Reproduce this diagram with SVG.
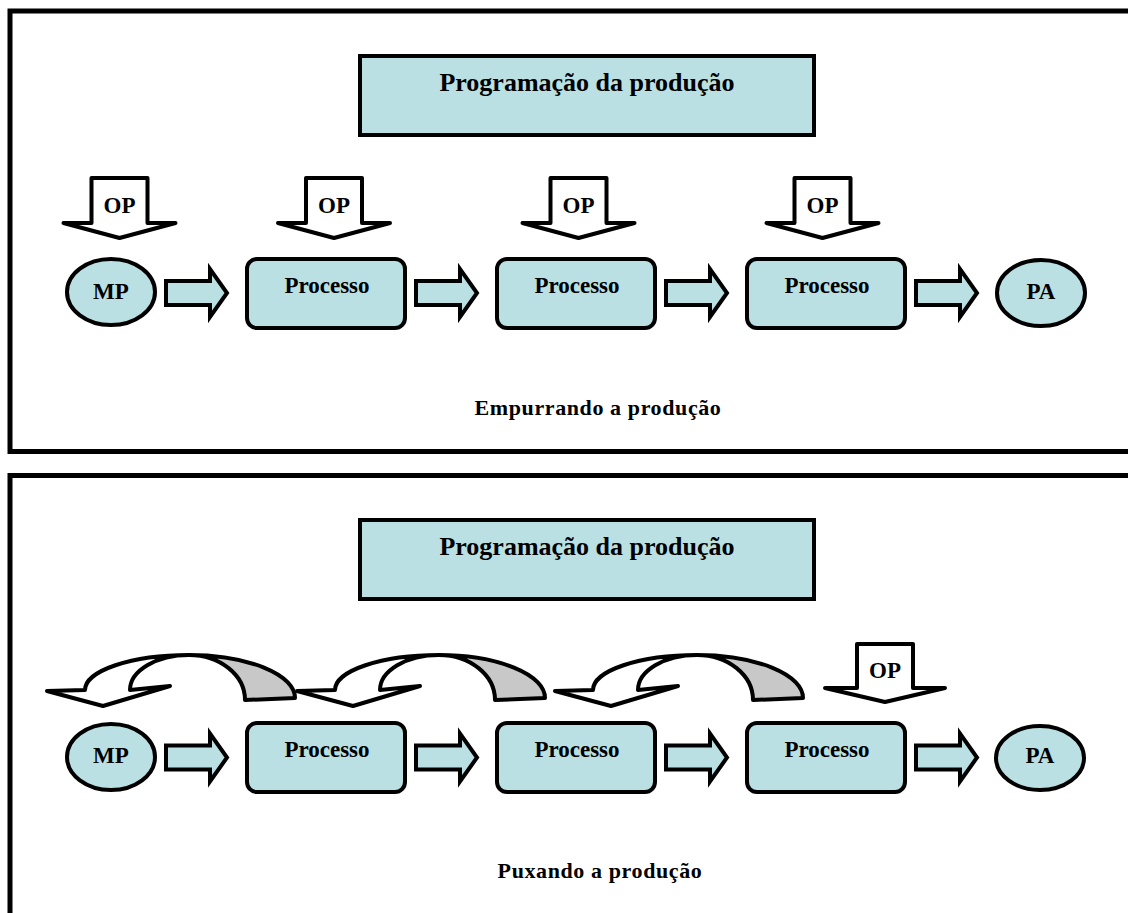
<svg xmlns="http://www.w3.org/2000/svg" xmlns:xlink="http://www.w3.org/1999/xlink" width="1128" height="913" viewBox="0 0 1128 913">
  <style>
    .frame { fill: #ffffff; stroke: #000000; stroke-width: 5; }
    .box { fill: #bbe0e3; stroke: #000000; stroke-width: 4; }
    .flow { fill: #bbe0e3; stroke: #000000; stroke-width: 4; stroke-linejoin: miter; }
    .order { fill: #ffffff; stroke: #000000; stroke-width: 4; stroke-linejoin: round; }
    .pull-front { fill: #ffffff; stroke: #000000; stroke-width: 4; stroke-linejoin: round; }
    .pull-back { fill: #c8c8c8; stroke: #000000; stroke-width: 4; stroke-linejoin: round; }
    text { font-family: "Liberation Serif", "Times New Roman", serif; font-weight: bold; fill: #000000; text-anchor: middle; }
    .title { font-size: 26px; }
    .label { font-size: 23px; }
    .caption { font-size: 22px; letter-spacing: 0.6px; }
  </style>
  <defs>
    <!-- block arrow between stages, origin at shaft left / centre line -->
    <path id="flowArrow" class="flow" d="M0,-12 H44 V-24 L61,0 L44,24 V12 H0 Z"/>
    <!-- production order arrow pointing down, origin at top centre -->
    <path id="orderArrow" class="order" d="M-28,0 H28 V45 H56 L0,60 L-56,45 H-28 Z"/>
    <path id="orderArrowWide" class="order" d="M-28,0 H28 V44 H60 L0,58 L-60,44 H-28 Z"/>
    <!-- curved pull arrow: grey back face and white front face with head -->
    <g id="pullArrow">
      <path class="pull-back" d="M189,655 A106,43 0 0 1 295,698 L245,700 A56,45 0 0 0 189,655 Z"/>
      <path class="pull-front" d="M189,655 A104,35 0 0 0 85,690 L47,691 L103,706 L170,686 L130,690 A59,35 0 0 1 189,655 Z"/>
    </g>
  </defs>

  <!-- panel frames -->
  <rect class="frame" x="10" y="11" width="1130" height="440.5"/>
  <rect class="frame" x="10" y="475.5" width="1130" height="460"/>

  <!-- ===== push panel ===== -->
  <g id="push-schedule">
    <rect class="box" x="360" y="56" width="454" height="79"/>
    <text class="title" x="587" y="91">Programação da produção</text>
  </g>
  <g id="push-mp">
    <ellipse class="box" cx="111" cy="292" rx="44" ry="33"/>
    <text class="label" x="111" y="299">MP</text>
  </g>
  <g id="push-proc1">
    <rect class="box" x="247" y="259" width="158" height="69" rx="10"/>
    <text class="label" x="327" y="293">Processo</text>
  </g>
  <g id="push-proc2">
    <rect class="box" x="497" y="259" width="158" height="69" rx="10"/>
    <text class="label" x="577" y="293">Processo</text>
  </g>
  <g id="push-proc3">
    <rect class="box" x="747" y="259" width="158" height="69" rx="10"/>
    <text class="label" x="827" y="293">Processo</text>
  </g>
  <g id="push-pa">
    <ellipse class="box" cx="1041" cy="293" rx="44" ry="33"/>
    <text class="label" x="1041" y="299">PA</text>
  </g>
  <g id="push-op1">
    <use xlink:href="#orderArrow" transform="translate(119.5,178)"/>
    <text class="label" x="119.5" y="213">OP</text>
  </g>
  <g id="push-op2">
    <use xlink:href="#orderArrow" transform="translate(334,178)"/>
    <text class="label" x="334" y="213">OP</text>
  </g>
  <g id="push-op3">
    <use xlink:href="#orderArrow" transform="translate(578.5,178)"/>
    <text class="label" x="578.5" y="213">OP</text>
  </g>
  <g id="push-op4">
    <use xlink:href="#orderArrow" transform="translate(822.5,178)"/>
    <text class="label" x="822.5" y="213">OP</text>
  </g>
  <text class="caption" x="598" y="415">Empurrando a produção</text>

  <!-- ===== pull panel ===== -->
  <g id="pull-schedule">
    <rect class="box" x="360" y="520" width="454" height="79"/>
    <text class="title" x="587" y="555">Programação da produção</text>
  </g>
  <g id="pull-mp">
    <ellipse class="box" cx="111" cy="757" rx="44" ry="33"/>
    <text class="label" x="111" y="763">MP</text>
  </g>
  <g id="pull-proc1">
    <rect class="box" x="247" y="723" width="158" height="69" rx="10"/>
    <text class="label" x="327" y="757">Processo</text>
  </g>
  <g id="pull-proc2">
    <rect class="box" x="497" y="723" width="158" height="69" rx="10"/>
    <text class="label" x="577" y="757">Processo</text>
  </g>
  <g id="pull-proc3">
    <rect class="box" x="747" y="723" width="158" height="69" rx="10"/>
    <text class="label" x="827" y="757">Processo</text>
  </g>
  <g id="pull-pa">
    <ellipse class="box" cx="1040" cy="758" rx="44" ry="32"/>
    <text class="label" x="1040" y="763">PA</text>
  </g>
  <g id="pull-op">
    <use xlink:href="#orderArrowWide" transform="translate(885,644)"/>
    <text class="label" x="885" y="678">OP</text>
  </g>
  <text class="caption" x="600" y="878">Puxando a produção</text>

  <!-- ===== connectors ===== -->
  <g id="connectors">
    <use xlink:href="#flowArrow" transform="translate(166,293)"/>
    <use xlink:href="#flowArrow" transform="translate(416,293)"/>
    <use xlink:href="#flowArrow" transform="translate(666,293)"/>
    <use xlink:href="#flowArrow" transform="translate(916,293)"/>
    <use xlink:href="#flowArrow" transform="translate(166,757.5)"/>
    <use xlink:href="#flowArrow" transform="translate(416,757.5)"/>
    <use xlink:href="#flowArrow" transform="translate(666,757.5)"/>
    <use xlink:href="#flowArrow" transform="translate(916,757.5)"/>
    <use xlink:href="#pullArrow"/>
    <use xlink:href="#pullArrow" transform="translate(250,0)"/>
    <use xlink:href="#pullArrow" transform="translate(508,0)"/>
  </g>
</svg>
